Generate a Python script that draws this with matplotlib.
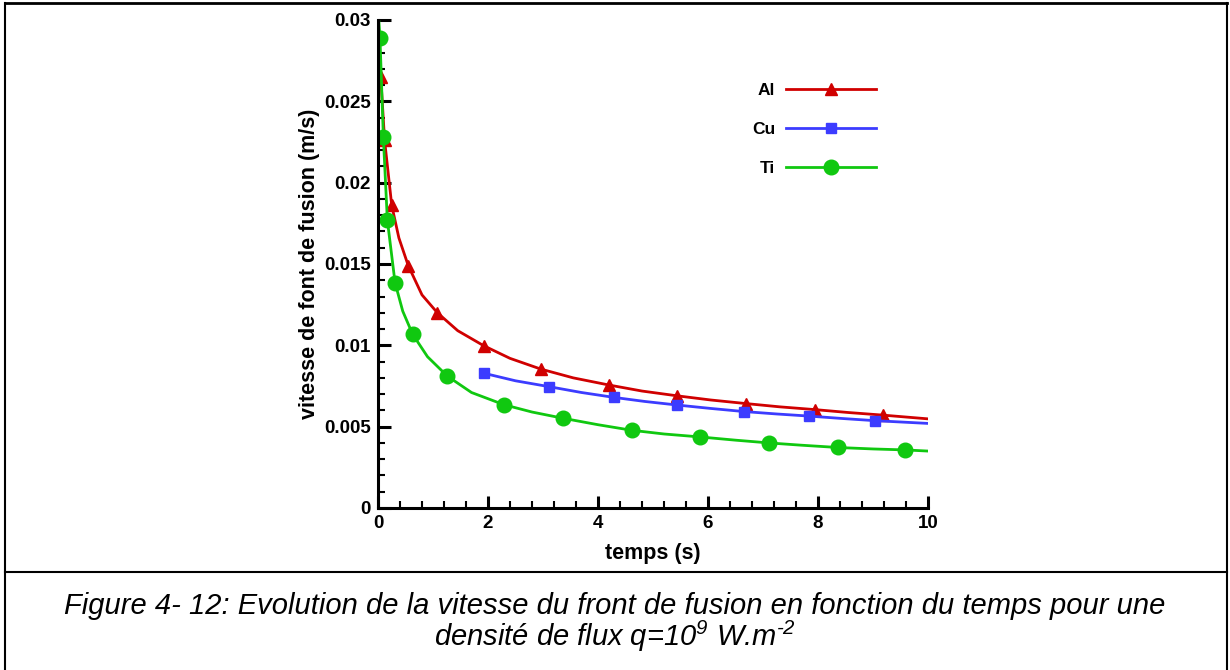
import matplotlib
matplotlib.use("Agg")
import matplotlib.pyplot as plt
from matplotlib.lines import Line2D
from matplotlib.ticker import MultipleLocator

plt.rcParams['font.family'] = ['Liberation Sans', 'DejaVu Sans']
plt.rcParams['mathtext.fontset'] = 'custom'
plt.rcParams['mathtext.rm'] = 'Liberation Sans:italic'
plt.rcParams['mathtext.it'] = 'Liberation Sans:italic'

# --- donnees ---
al_t = [0.05, 0.12, 0.25, 0.38, 0.55, 0.80, 1.08, 1.45, 1.92, 2.40, 2.96,
        3.55, 4.20, 4.80, 5.43, 6.05, 6.69, 7.30, 7.94, 8.55, 9.18, 10.0]
al_v = [0.0265, 0.0226, 0.0186, 0.0166, 0.0149, 0.0131, 0.0120, 0.0109,
        0.00998, 0.0092, 0.00854, 0.0080, 0.00756, 0.00719, 0.0069,
        0.00664, 0.00642, 0.00622, 0.00605, 0.00587, 0.00571, 0.00548]
al_marks = [0, 1, 2, 4, 6, 8, 10, 12, 14, 16, 18, 20]

cu_t = [1.93, 2.50, 3.11, 3.70, 4.29, 4.85, 5.44, 6.05, 6.65, 7.25, 7.84,
        8.45, 9.03, 10.0]
cu_v = [0.00828, 0.00782, 0.00746, 0.0071, 0.0068, 0.00655, 0.00633,
        0.00612, 0.00593, 0.00578, 0.00565, 0.0055, 0.00537, 0.0052]
cu_marks = [0, 2, 4, 6, 8, 10, 12]

ti_t = [0.01, 0.036, 0.097, 0.17, 0.31, 0.45, 0.63, 0.90, 1.26, 1.70, 2.29,
        2.80, 3.36, 4.00, 4.61, 5.20, 5.85, 6.50, 7.11, 7.70, 8.36, 9.00,
        9.59, 10.0]
ti_v = [0.0302, 0.0289, 0.0228, 0.0177, 0.01385, 0.0121, 0.01068, 0.0093,
        0.00811, 0.0071, 0.00635, 0.0059, 0.00552, 0.00512, 0.00478,
        0.00455, 0.00437, 0.00417, 0.0040, 0.00386, 0.00372, 0.00363,
        0.00357, 0.0035]
ti_marks = [1, 2, 3, 4, 6, 8, 10, 12, 14, 16, 18, 20, 22]

x_ticks = [0, 2, 4, 6, 8, 10]
y_ticks = [0, 0.005, 0.01, 0.015, 0.02, 0.025, 0.03]
y_tick_labels = ['0', '0.005', '0.01', '0.015', '0.02', '0.025', '0.03']

fig = plt.figure(figsize=(12.3, 6.7), dpi=100)
ax = fig.add_axes([378 / 1230, 1 - 508 / 670, 550 / 1230, 488 / 670])

ax.plot(al_t, al_v, color='#D00000', lw=2.0, marker='^', ms=8.5,
        markevery=al_marks, label='Al')
ax.plot(cu_t, cu_v, color='#3C3CFF', lw=2.0, marker='s', ms=7.5,
        markevery=cu_marks, label='Cu')
ax.plot(ti_t, ti_v, color='#10C810', lw=2.0, marker='o', ms=10.5,
        markevery=ti_marks, label='Ti')

ax.set_xlim(0, 10)
ax.set_ylim(0, 0.03)
ax.set_xticks(x_ticks)
ax.set_yticks(y_ticks)
ax.set_yticklabels(y_tick_labels)
ax.xaxis.set_minor_locator(MultipleLocator(0.4))
ax.yaxis.set_minor_locator(MultipleLocator(0.001))

for s in ['top', 'right']:
    ax.spines[s].set_visible(False)
for s in ['left', 'bottom']:
    ax.spines[s].set_linewidth(2.2)
ax.tick_params(which='major', direction='in', length=9, width=2.2,
               labelsize=13.5, pad=5)
ax.tick_params(which='minor', direction='in', length=5, width=1.5)
for lab in ax.get_xticklabels() + ax.get_yticklabels():
    lab.set_fontweight('bold')

ax.set_xlabel('temps (s)', fontsize=15.5, fontweight='bold')
ax.xaxis.set_label_coords(0.5, -0.072)
ax.set_ylabel('vitesse de font de fusion (m/s)', fontsize=15.5,
              fontweight='bold')
ax.yaxis.set_label_coords(-0.105, 0.5)

leg = ax.legend(loc='upper right', bbox_to_anchor=(0.9055, 0.871),
                frameon=False, markerfirst=False, handlelength=5.2,
                handletextpad=0.6, labelspacing=1.38, borderpad=0,
                borderaxespad=0, numpoints=1,
                prop={'size': 12.5, 'weight': 'bold'})

# cadre et separation de la legende
fig.add_artist(Line2D([5 / 1230, 1227 / 1230], [1 - 2.5 / 670, 1 - 2.5 / 670],
                      color='black', lw=2, transform=fig.transFigure))
fig.add_artist(Line2D([5 / 1230, 5 / 1230], [0, 1 - 2.5 / 670],
                      color='black', lw=1.5, transform=fig.transFigure))
fig.add_artist(Line2D([1227 / 1230, 1227 / 1230], [0, 1 - 2.5 / 670],
                      color='black', lw=1.5, transform=fig.transFigure))
fig.add_artist(Line2D([5 / 1230, 1227 / 1230], [1 - 572 / 670, 1 - 572 / 670],
                      color='black', lw=1.5, transform=fig.transFigure))

fig.text(0.5, 1 - 614 / 670,
         'Figure 4- 12: Evolution de la vitesse du front de fusion en fonction '
         'du temps pour une', ha='center', va='baseline', fontsize=21,
         style='italic')
fig.text(0.5, 1 - 646 / 670, 'densité de flux q=10$^{9}$ W.m$^{\u20102}$',
         ha='center', va='baseline', fontsize=21, style='italic')

fig.savefig('out.png', dpi=100)
